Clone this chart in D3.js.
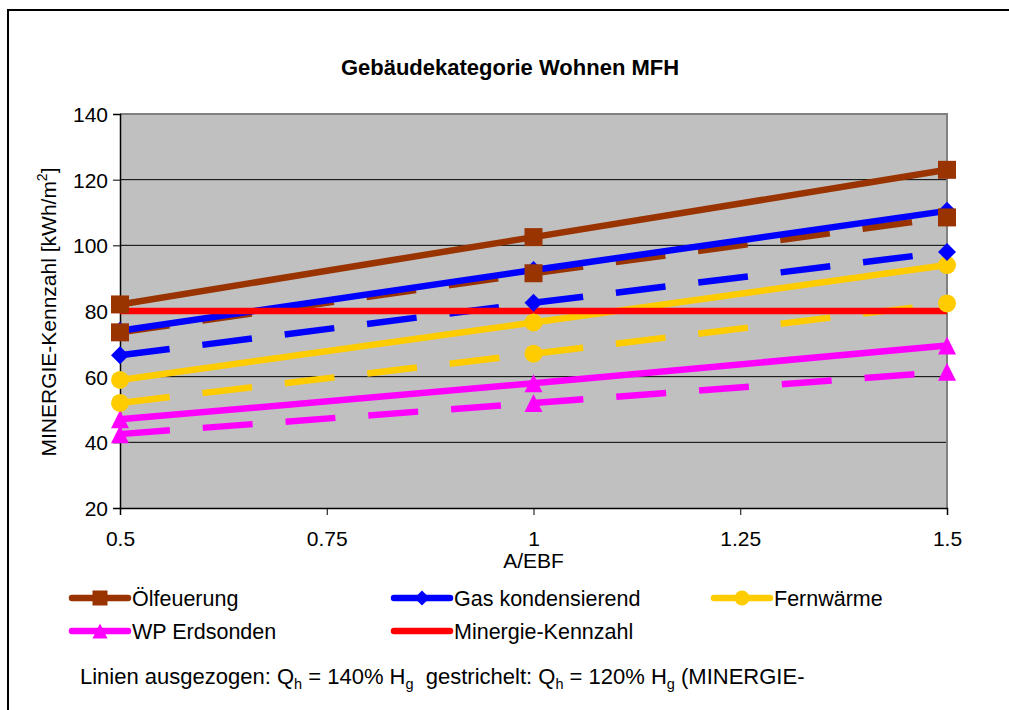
<!DOCTYPE html>
<html>
<head>
<meta charset="utf-8">
<script src="https://cdn.jsdelivr.net/npm/d3@7"></script>
<style>
    body { margin: 0; background: #fff; }
    svg text { font-family: "Liberation Sans", Arial, sans-serif; fill: #000; }
</style>
</head>
<body>
<svg id="chart" width="1009" height="710"></svg>
<script>

// values
const x_values = [0.5, 1.0, 1.5];
const x_ticks = [0.5, 0.75, 1.0, 1.25, 1.5];
const y_ticks = [20, 40, 60, 80, 100, 120, 140];

const oel_solid = [82, 102.5, 123];
const oel_dashed = [73.5, 91.5, 108.5];
const gas_solid = [74, 92.5, 110.5];
const gas_dashed = [66.5, 82.5, 98];
const fern_solid = [59, 76.5, 94];
const fern_dashed = [52, 67, 82.3];
const wp_solid = [47, 58, 69.5];
const wp_dashed = [42.5, 52, 61.5];
const minergie = [80, 80, 80];

const series_names = ["Ölfeuerung", "Gas kondensierend", "Fernwärme", "WP Erdsonden", "Minergie-Kennzahl"];
const series_colors = ["#993300", "#0000ff", "#ffcc00", "#ff00ff", "#ff0000"];
const series_markers = ["square", "diamond", "circle", "triangle", "none"];


class LineChartCanvas {

    constructor(html_selector_id) {
        this.svg = d3.select(html_selector_id);
        this.plot = {left: 120, right: 947, top: 114, bottom: 508};

        this.x = d3.scaleLinear().domain([0.5, 1.5]).range([this.plot.left, this.plot.right]);
        this.y = d3.scaleLinear().domain([20, 140]).range([this.plot.bottom, this.plot.top]);
    }

    draw_frame() {
        // outer border, runs off the page on the right and bottom
        this.svg.append("rect")
            .attr("x", 8).attr("y", 10)
            .attr("width", 1010).attr("height", 720)
            .attr("fill", "none")
            .attr("stroke", "#000")
            .attr("stroke-width", 2);

        this.svg.append("text")
            .attr("x", 510).attr("y", 75)
            .attr("text-anchor", "middle")
            .style("font-size", "22px")
            .style("font-weight", "bold")
            .text("Gebäudekategorie Wohnen MFH");
    }

    draw_axes() {
        let p = this.plot;
        let _this = this;

        this.svg.append("rect")
            .attr("x", p.left).attr("y", p.top)
            .attr("width", p.right - p.left).attr("height", p.bottom - p.top)
            .attr("fill", "#c0c0c0");

        // gridlines
        this.svg.selectAll(".grid")
            .data(y_ticks.filter(d => d > 20 && d < 140))
            .enter()
            .append("line")
            .attr("class", "grid")
            .attr("x1", p.left).attr("x2", p.right)
            .attr("y1", d => _this.y(d)).attr("y2", d => _this.y(d))
            .attr("stroke", "#000")
            .attr("stroke-width", 1);

        // grey top and right edge of the plot area
        this.svg.append("path")
            .attr("d", "M" + p.left + "," + p.top + "H" + p.right + "V" + p.bottom)
            .attr("fill", "none")
            .attr("stroke", "#808080")
            .attr("stroke-width", 2);

        let y_axis = d3.axisLeft(this.y)
            .tickValues(y_ticks)
            .tickSize(7)
            .tickPadding(5)
            .tickFormat(d3.format("d"));
        let gy = this.svg.append("g")
            .attr("transform", "translate(" + p.left + ",0)")
            .call(y_axis);

        let x_axis = d3.axisBottom(this.x)
            .tickValues(x_ticks)
            .tickSize(7)
            .tickPadding(16)
            .tickFormat(d => String(d === 1 ? "1" : d));
        let gx = this.svg.append("g")
            .attr("transform", "translate(0," + p.bottom + ")")
            .call(x_axis);

        [gx, gy].forEach(function (g) {
            g.select(".domain").attr("stroke", "#000").attr("stroke-width", 1.5);
            g.selectAll(".tick line").attr("stroke", "#000");
            g.selectAll(".tick text")
                .style("font-size", "21px")
                .attr("font-family", null);
        });
        gy.selectAll(".tick text").attr("dy", "0.35em");

        this.svg.append("text")
            .attr("x", this.x(1.0)).attr("y", 568)
            .attr("text-anchor", "middle")
            .style("font-size", "21px")
            .text("A/EBF");

        let ylab = this.svg.append("text")
            .attr("transform", "translate(56,312) rotate(-90)")
            .attr("text-anchor", "middle")
            .style("font-size", "21px");
        ylab.append("tspan").text("MINERGIE-Kennzahl [kWh/m");
        ylab.append("tspan").attr("dy", -9).style("font-size", "14px").text("2");
        ylab.append("tspan").attr("dy", 9).text("]");
    }

    draw_marker(g, type, cx, cy, color, size) {
        if (type === "none") return;
        let h = size / 2;
        let d;
        if (type === "square") {
            d = "M" + (-h) + "," + (-h) + "H" + h + "V" + h + "H" + (-h) + "Z";
        } else if (type === "diamond") {
            d = "M0," + (-h) + "L" + h + ",0L0," + h + "L" + (-h) + ",0Z";
        } else if (type === "triangle") {
            d = "M0," + (-h) + "L" + h + "," + h + "L" + (-h) + "," + h + "Z";
        } else {
            d = d3.symbol().type(d3.symbolCircle).size(Math.PI * h * h)();
        }
        g.append("path")
            .attr("d", d)
            .attr("transform", "translate(" + cx + "," + cy + ")")
            .attr("fill", color);
    }

    draw_series(lines) {
        let _this = this;
        let line = d3.line()
            .x(d => _this.x(d[0]))
            .y(d => _this.y(d[1]));

        let g_lines = this.svg.append("g");
        lines.forEach(function (s) {
            let pts = x_values.map((x, i) => [x, s.values[i]]);
            // Excel restarts the dash pattern at every data point
            for (let i = 0; i < pts.length - 1; i++) {
                g_lines.append("path")
                    .attr("d", line([pts[i], pts[i + 1]]))
                    .attr("fill", "none")
                    .attr("stroke", s.color)
                    .attr("stroke-width", 6.5)
                    .attr("stroke-dasharray", s.dashed ? "50,33" : null);
            }
        });

        let g_marks = this.svg.append("g");
        lines.slice().reverse().forEach(function (s) {
            x_values.forEach(function (x, i) {
                _this.draw_marker(g_marks, s.marker, _this.x(x), _this.y(s.values[i]), s.color, 18);
            });
        });
    }

    draw_legend() {
        let _this = this;
        let pos = [[72, 598], [394, 598], [714, 598], [72, 631], [394, 631]];
        series_names.forEach(function (name, i) {
            let g = _this.svg.append("g")
                .attr("transform", "translate(" + pos[i][0] + "," + pos[i][1] + ")");
            g.append("line")
                .attr("x1", 0).attr("x2", 56)
                .attr("y1", 0).attr("y2", 0)
                .attr("stroke", series_colors[i])
                .attr("stroke-width", 6.5)
                .attr("stroke-linecap", "round");
            _this.draw_marker(g, series_markers[i], 28, 0, series_colors[i], 15);
            g.append("text")
                .attr("x", 60).attr("y", 8)
                .style("font-size", "21.5px")
                .text(name);
        });
    }

    draw_note() {
        let t = this.svg.append("text")
            .attr("x", 80).attr("y", 684)
            .style("font-size", "22px");
        let sub = function (s) {
            t.append("tspan").attr("dy", 5).style("font-size", "14.5px").text(s);
        };
        t.append("tspan").text("Linien ausgezogen: Q");
        sub("h");
        t.append("tspan").attr("dy", -5).text(" = 140% H");
        sub("g");
        t.append("tspan").attr("dy", -5).attr("xml:space", "preserve").text("  gestrichelt: Q");
        sub("h");
        t.append("tspan").attr("dy", -5).text(" = 120% H");
        sub("g");
        t.append("tspan").attr("dy", -5).text(" (MINERGIE-");
    }
}

let chart = new LineChartCanvas("#chart");
chart.draw_frame();
chart.draw_axes();
chart.draw_series([
    {values: oel_solid, color: series_colors[0], marker: "square", dashed: false},
    {values: oel_dashed, color: series_colors[0], marker: "square", dashed: true},
    {values: gas_solid, color: series_colors[1], marker: "diamond", dashed: false},
    {values: gas_dashed, color: series_colors[1], marker: "diamond", dashed: true},
    {values: fern_solid, color: series_colors[2], marker: "circle", dashed: false},
    {values: fern_dashed, color: series_colors[2], marker: "circle", dashed: true},
    {values: wp_solid, color: series_colors[3], marker: "triangle", dashed: false},
    {values: wp_dashed, color: series_colors[3], marker: "triangle", dashed: true},
    {values: minergie, color: series_colors[4], marker: "none", dashed: false}
]);
chart.draw_legend();
chart.draw_note();

</script>
</body>
</html>
